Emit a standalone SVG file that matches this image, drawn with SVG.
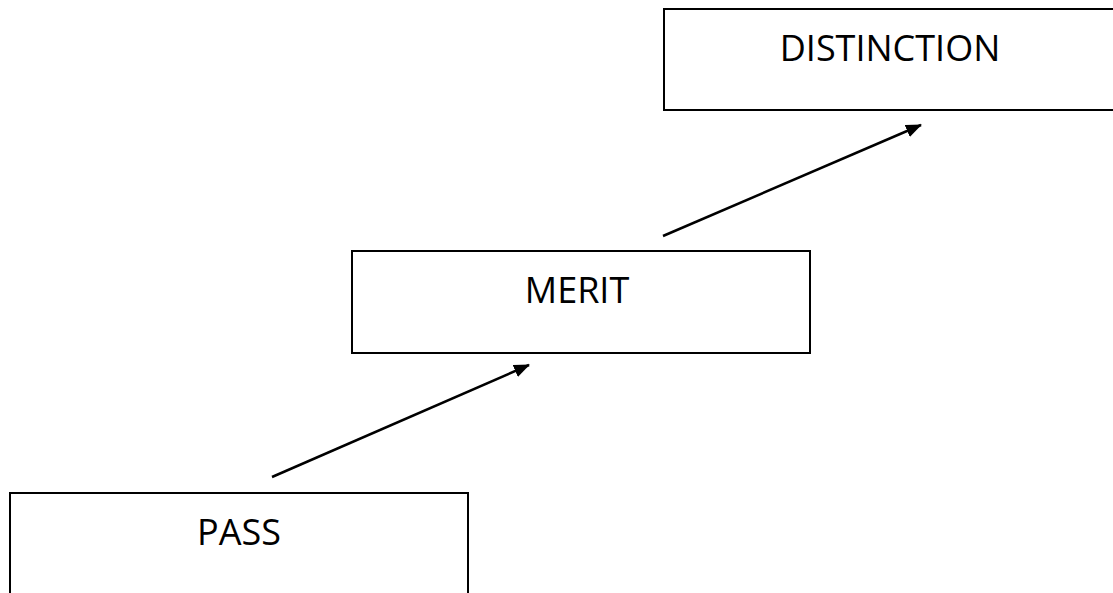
<svg xmlns="http://www.w3.org/2000/svg" width="1113" height="593" viewBox="0 0 1113 593">
<style>
.box{fill:#fff;stroke:#000;stroke-width:2}
.lbl{font-family:"Open Sans","Liberation Sans",sans-serif;font-size:36px;fill:#000;text-anchor:middle}
.conn{stroke:#000;stroke-width:2.5;fill:none}
</style>
<defs>
<marker id="ah" markerWidth="16" markerHeight="13" refX="15" refY="6.5" orient="auto" markerUnits="userSpaceOnUse" viewBox="0 0 16 13">
<path d="M0,0 L16,6.5 L0,13 Z" fill="#000"/>
</marker>
</defs>
<rect width="1113" height="593" fill="#fff"/>
<g id="node-distinction">
<rect class="box" x="664" y="9" width="460" height="101"/>
<text class="lbl" x="890" y="61">DISTINCTION</text>
</g>
<g id="node-merit">
<rect class="box" x="352" y="251" width="458" height="102"/>
<text class="lbl" x="577" y="303">MERIT</text>
</g>
<g id="node-pass">
<rect class="box" x="10" y="493" width="458" height="120"/>
<text class="lbl" x="239" y="545">PASS</text>
</g>
<g id="connectors">
<line class="conn" x1="272" y1="477" x2="529" y2="365" marker-end="url(#ah)"/>
<line class="conn" x1="663" y1="236" x2="921" y2="125" marker-end="url(#ah)"/>
</g>
</svg>
